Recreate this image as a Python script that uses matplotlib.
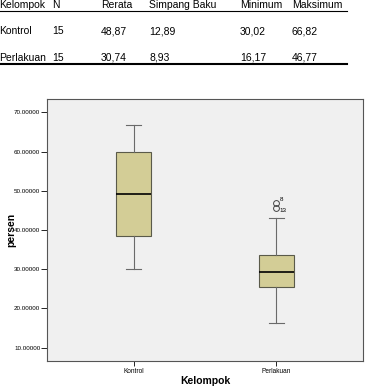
import matplotlib
matplotlib.use("Agg")
import matplotlib.pyplot as plt

plt.rcParams['font.family'] = ['Liberation Sans', 'DejaVu Sans']

# Table data
tbl_header = ["Kelompok", "N", "Rerata", "Simpang Baku", "Minimum", "Maksimum"]
tbl_rows = [["Kontrol", "15", "48,87", "12,89", "30,02", "66,82"],
            ["Perlakuan", "15", "30,74", "8,93", "16,17", "46,77"]]

# Boxplot data
groups = ["Kontrol", "Perlakuan"]
q1 = [38.4, 25.5]
med = [49.1, 29.4]
q3 = [60.0, 33.5]
whislo = [30.02, 16.17]
whishi = [66.82, 43.0]
fliers = [[], [46.77, 45.7]]
flier_labels = [[], ["8", "13"]]
yticks = [10, 20, 30, 40, 50, 60, 70]

W, H = 365, 387
fig = plt.figure(figsize=(W/100, H/100), dpi=100)
fig.patch.set_facecolor("white")

col_x = [-1, 52, 101, 149, 240, 292]
row_y = [5, 31, 58]
for j, t in enumerate(tbl_header):
    fig.text(col_x[j]/W, 1 - row_y[0]/H, t, fontsize=7.5, va="center", ha="left")
for i, row in enumerate(tbl_rows):
    for j, t in enumerate(row):
        fig.text(col_x[j]/W, 1 - row_y[i+1]/H, t, fontsize=7.5, va="center", ha="left")
line_ax = fig.add_axes([0, 0, 1, 1], facecolor="none")
line_ax.set_xlim(0, W); line_ax.set_ylim(H, 0); line_ax.axis("off")
line_ax.plot([0, 347], [10.5, 10.5], color="black", lw=0.8)
line_ax.plot([0, 347], [63.5, 63.5], color="black", lw=1.5)

l, r, t, b = 47, 363, 99, 361
ax = fig.add_axes([l/W, 1 - b/H, (r-l)/W, (b-t)/H])
ax.set_facecolor("#f0f0f0")
stats = []
for i in range(len(groups)):
    stats.append(dict(med=med[i], q1=q1[i], q3=q3[i], whislo=whislo[i],
                      whishi=whishi[i], fliers=fliers[i], label=groups[i]))
ax.bxp(stats, positions=[1, 2], widths=0.25, patch_artist=True,
       boxprops=dict(facecolor="#d3cd96", edgecolor="#5a5a4a", linewidth=0.8),
       medianprops=dict(color="black", linewidth=1.2),
       whiskerprops=dict(color="#6a6a6a", linewidth=0.8),
       capprops=dict(color="#6a6a6a", linewidth=0.8),
       capwidths=0.1,
       flierprops=dict(marker="o", markersize=4.2, markerfacecolor="none",
                       markeredgecolor="#444444", markeredgewidth=0.7))
for i in range(len(groups)):
    for k, (v, lab) in enumerate(zip(fliers[i], flier_labels[i])):
        dy = 2.5 if k == 0 else -2
        ax.annotate(lab, (i+1, v), xytext=(2.5, dy), textcoords="offset points",
                    fontsize=4.5, va="center", ha="left")
ax.set_xlim(0.395, 2.605)
ax.set_ylim(6.6, 73.4)
ax.set_yticks(yticks)
ax.set_yticklabels([f"{v:.5f}" for v in yticks], fontsize=4.5)
ax.set_xticks([1, 2])
ax.set_xticklabels(groups, fontsize=4.7)
ax.tick_params(axis="y", length=4, width=0.6, pad=0.8)
ax.tick_params(axis="x", length=3.5, width=0.6, pad=1.5)
for s in ax.spines.values():
    s.set_color("#555555"); s.set_linewidth(0.8)
ax.set_ylabel("persen", fontsize=7.5, fontweight="bold", va="center")
ax.yaxis.set_label_coords(-0.114, 0.5)
ax.set_xlabel("Kelompok", fontsize=7.5, fontweight="bold", va="center")
ax.xaxis.set_label_coords(0.5, -0.075)

fig.savefig("out.png", dpi=100)
